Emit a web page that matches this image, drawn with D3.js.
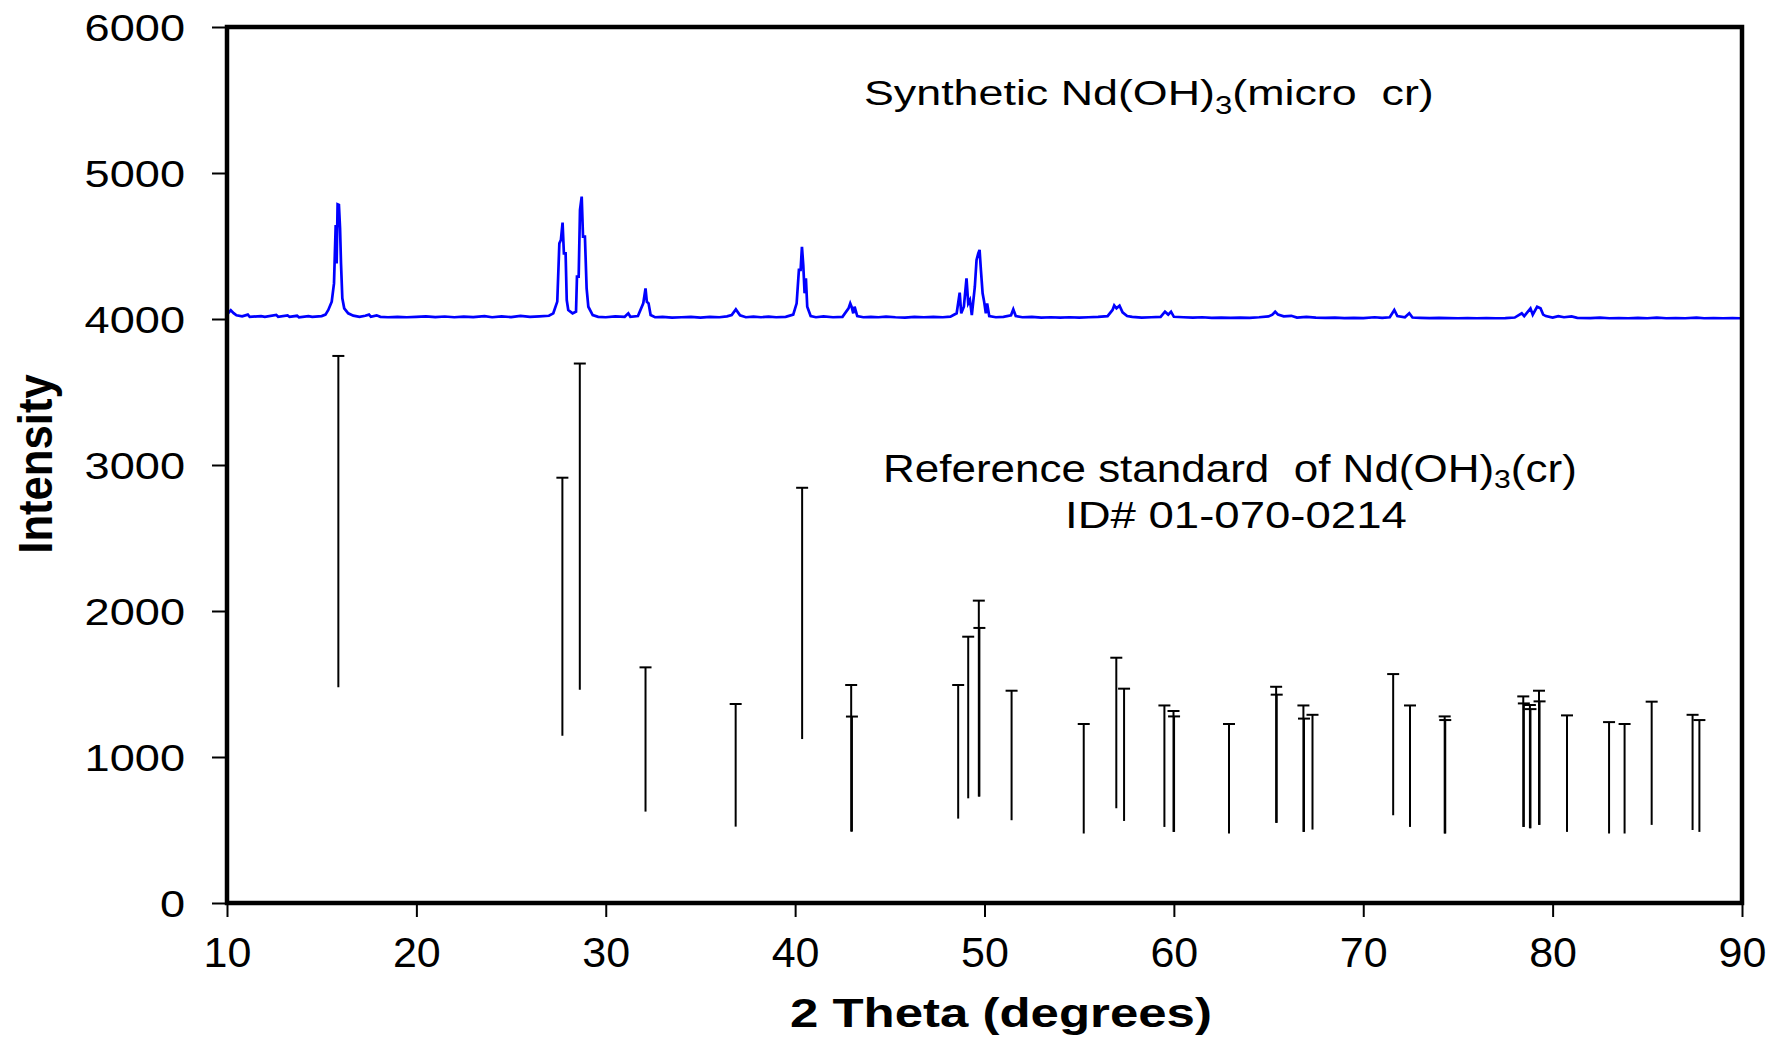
<!DOCTYPE html>
<html>
<head>
<meta charset="utf-8">
<script src="https://cdn.jsdelivr.net/npm/d3@7"></script>
<style>
  html, body { margin: 0; padding: 0; background: #fff; }
  svg { display: block; }
  text { font-family: "Liberation Sans", Arial, Helvetica, sans-serif; fill: #000; }
</style>
</head>
<body>
<svg id="chart" width="1779" height="1038"></svg>
<script>
// ---------------- DATA ----------------
// Synthetic Nd(OH)3 measured pattern (2θ in degrees, intensity offset by 4000)
const traceTheta = [
  10.0, 10.2, 10.35, 10.5, 10.8, 11.1, 11.2, 11.8, 12.0, 12.6, 12.7, 13.2, 13.3, 13.7, 13.8, 14.3, 14.5, 15.0, 15.2,
  15.35, 15.53, 15.65, 15.74, 15.79, 15.84, 15.91, 15.97, 16.02, 16.09, 16.19, 16.40, 16.67,
  17.0, 17.3, 17.5, 17.6, 17.9, 18.1, 18.5, 19.0, 19.5, 20.0, 20.5, 21.0, 21.5, 22.0, 22.5, 23.0, 23.6, 24.0, 24.5,
  25.0, 25.5, 26.0, 26.5, 27.0,
  27.23, 27.44, 27.55, 27.63, 27.72, 27.79, 27.88, 27.94, 28.02, 28.25, 28.43, 28.48, 28.57, 28.64, 28.73, 28.80,
  28.90, 28.99, 29.08, 29.31,
  29.6, 30.0, 30.5, 31.0, 31.19, 31.3, 31.7, 31.98, 32.10, 32.17, 32.26, 32.37, 32.6, 33.0, 33.5, 34.0, 34.5, 35.0,
  35.5, 36.0, 36.4, 36.65, 36.87, 37.09, 37.4, 37.8, 38.2, 38.6, 39.0, 39.5, 39.9,
  40.08, 40.20, 40.29, 40.36, 40.43, 40.50, 40.57, 40.64, 40.82,
  41.1, 41.5, 42.0, 42.5, 42.82, 42.91, 42.98, 43.07, 43.14, 43.28, 43.6, 44.0, 44.4, 44.8, 45.3, 45.8, 46.3, 46.8,
  47.3, 47.8, 48.2,
  48.53, 48.69, 48.77, 48.91, 49.05, 49.14, 49.23, 49.33, 49.49, 49.58, 49.67, 49.74, 49.81, 49.90, 49.98, 50.07,
  50.14, 50.25,
  50.6, 51.0, 51.4, 51.52, 51.65, 52.0, 52.5, 53.0, 53.5, 54.0, 54.5, 55.0, 55.5, 56.0, 56.5,
  56.76, 56.85, 56.97, 57.13, 57.29, 57.53, 57.8, 58.3, 58.8, 59.3, 59.53, 59.7, 59.85, 60.0, 60.5, 61.0, 61.5,
  62.0, 62.5, 63.0, 63.5, 64.0, 64.5, 65.0, 65.2, 65.35, 65.5, 65.8, 66.2, 66.5, 67.0, 67.5, 68.0, 68.5, 69.0,
  69.5, 70.0, 70.6, 71.0, 71.4, 71.64, 71.8, 72.2, 72.43, 72.6, 73.0, 73.5, 74.0, 74.5, 75.0, 75.5, 76.0, 76.5,
  77.0, 77.5, 78.0, 78.37, 78.5, 78.83, 78.95, 79.18, 79.36, 79.5, 79.64, 80.0, 80.3, 80.6, 81.0, 81.3, 82.0,
  82.5, 83.0, 83.5, 84.0, 84.5, 85.0, 85.5, 86.0, 86.5, 87.0, 87.6, 88.0, 88.5, 89.0, 89.5, 89.9
];
const traceIntensity = [
  4030, 4060, 4040, 4025, 4018, 4030, 4015, 4020, 4015, 4028, 4015, 4024, 4015, 4022, 4012, 4020, 4015, 4020, 4030,
  4062, 4118, 4244, 4644, 4381, 4785, 4781, 4621, 4381, 4142, 4073, 4039, 4023,
  4015, 4022, 4030, 4015, 4025, 4015, 4012, 4015, 4012, 4015, 4018, 4013, 4017, 4012, 4016, 4013, 4020, 4012, 4018,
  4013, 4022, 4015, 4018, 4022,
  4039, 4119, 4518, 4541, 4660, 4449, 4449, 4130, 4062, 4039, 4050, 4290, 4290, 4747, 4838, 4564,
  4564, 4210, 4084, 4027,
  4015, 4012, 4018, 4015, 4039, 4015, 4020, 4107, 4210, 4118, 4107, 4027, 4012, 4015, 4010, 4012, 4015, 4010,
  4014, 4012, 4018, 4027, 4066, 4025, 4012, 4016, 4012, 4016, 4012, 4015, 4030,
  4107, 4336, 4336, 4495, 4370, 4176, 4279, 4084, 4020,
  4012, 4018, 4012, 4015, 4073, 4107, 4084, 4039, 4084, 4020, 4012, 4015, 4012, 4016, 4012, 4010, 4014, 4012,
  4015, 4012, 4016,
  4039, 4180, 4039, 4084, 4279, 4107, 4130, 4027, 4221, 4404, 4449, 4473, 4336, 4176, 4119, 4039,
  4107, 4020,
  4012, 4015, 4025, 4066, 4020, 4012, 4014, 4010, 4012, 4010, 4012, 4010, 4012, 4015, 4020,
  4062, 4093, 4073, 4091, 4046, 4020, 4015, 4010, 4012, 4015, 4050, 4030, 4050, 4015, 4012, 4010, 4012,
  4008, 4010, 4008, 4010, 4008, 4012, 4018, 4030, 4050, 4030, 4018, 4022, 4010, 4015, 4010, 4008, 4010, 4006,
  4008, 4006, 4012, 4008, 4012, 4062, 4020, 4012, 4039, 4010, 4008, 4006, 4008, 4006, 4005, 4006, 4005, 4006,
  4005, 4006, 4010, 4039, 4020, 4073, 4030, 4084, 4073, 4030, 4020, 4010, 4020, 4012, 4018, 4008, 4006,
  4010, 4005, 4006, 4005, 4008, 4005, 4010, 4005, 4006, 4005, 4010, 4005, 4006, 4005, 4006, 4005
];

// Reference standard sticks (ID# 01-070-0214): position, top and bottom of each stick
const stickTheta  = [15.88, 27.71, 28.63, 32.10, 36.86, 40.37, 42.96, 43.00, 48.61, 49.14, 49.70, 49.73, 51.43,
                     55.24, 56.96, 57.37, 59.50, 59.98, 60.01, 62.91, 65.40, 65.43, 66.84, 66.87, 67.32, 71.58,
                     72.47, 74.30, 74.33, 78.45, 78.48, 78.80, 78.83, 79.28, 79.31, 80.76, 82.98, 83.80, 85.23,
                     87.39, 87.75];
const stickTop    = [3747, 2913, 3695, 1614, 1363, 2844, 1493, 1277, 1493, 1824, 2071, 1884, 1454,
                     1226, 1680, 1468, 1353, 1315, 1278, 1226, 1481, 1427, 1353, 1263, 1289, 1568,
                     1353, 1278, 1253, 1415, 1367, 1356, 1328, 1454, 1381, 1285, 1239, 1226, 1379,
                     1289, 1253];
const stickBottom = [1477, 1145, 1461, 626, 523, 1123, 489, 489, 578, 717, 729, 729, 567,
                     476, 649, 562, 521, 487, 487, 476, 549, 549, 487, 487, 503, 601,
                     521, 476, 476, 521, 521, 512, 512, 535, 535, 487, 476, 476, 535,
                     500, 487];

const xTicks = [10, 20, 30, 40, 50, 60, 70, 80, 90];
const yTicks = [0, 1000, 2000, 3000, 4000, 5000, 6000];

// ---------------- CHART ----------------
const svg = d3.select("#chart");
const L = 227, R = 1742, T = 27, B = 903;

const x = d3.scaleLinear().domain([10, 90]).range([L, R]);
const y = d3.scaleLinear().domain([0, 6000]).range([B, T]);

// Y axis
const yAxis = svg.append("g")
  .attr("transform", `translate(${L - 2},0)`)
  .call(d3.axisLeft(y).tickValues(yTicks).tickSize(13).tickFormat(d3.format("d")));
yAxis.select(".domain").remove();
yAxis.selectAll(".tick line").attr("stroke", "#000").attr("stroke-width", 2);
yAxis.selectAll(".tick text")
  .attr("x", -40).attr("y", 13).attr("dy", 0)
  .attr("text-anchor", "end")
  .style("font-size", "37px")
  .style("font-family", '"Liberation Sans", Arial, sans-serif')
  .attr("fill", "#000")
  .attr("transform", "translate(-40,0) scale(1.22,1) translate(40,0)");

// X axis
const xAxis = svg.append("g")
  .attr("transform", `translate(0,${B + 2})`)
  .call(d3.axisBottom(x).tickValues(xTicks).tickSize(12).tickFormat(d3.format("d")));
xAxis.select(".domain").remove();
xAxis.selectAll(".tick line").attr("stroke", "#000").attr("stroke-width", 2);
xAxis.selectAll(".tick text")
  .attr("y", 62).attr("dy", 0)
  .style("font-size", "43px")
  .style("font-family", '"Liberation Sans", Arial, sans-serif')
  .attr("fill", "#000");

// Reference sticks
const sticks = svg.append("g").attr("class", "sticks");
stickTheta.forEach((t, i) => {
  sticks.append("line")
    .attr("x1", x(t)).attr("x2", x(t))
    .attr("y1", y(stickBottom[i])).attr("y2", y(stickTop[i]))
    .attr("stroke", "#000").attr("stroke-width", 2);
  sticks.append("line")
    .attr("x1", x(t) - 6).attr("x2", x(t) + 6)
    .attr("y1", y(stickTop[i])).attr("y2", y(stickTop[i]))
    .attr("stroke", "#000").attr("stroke-width", 2);
});

// Synthetic trace
const line = d3.line().x((d, i) => x(traceTheta[i])).y(d => y(d));
svg.append("path")
  .datum(traceIntensity)
  .attr("d", line)
  .attr("fill", "none")
  .attr("stroke", "#0000ff")
  .attr("stroke-width", 2.7)
  .attr("stroke-linejoin", "miter");

// Frame
svg.append("rect")
  .attr("x", L).attr("y", T).attr("width", R - L).attr("height", B - T)
  .attr("fill", "none").attr("stroke", "#000").attr("stroke-width", 4.5);

// ---------------- TEXT ----------------
function fitText(textSel, left, baseline, targetW, sy) {
  const w = textSel.node().getBBox().width;
  textSel.attr("transform", `translate(${left},${baseline}) scale(${targetW / w},${sy || 1})`);
}

function formulaText(parts, size, subSize, subShift) {
  const t = svg.append("text").attr("x", 0).attr("y", 0)
    .attr("text-anchor", "start").style("font-size", size + "px").attr("xml:space", "preserve");
  parts.forEach(p => {
    if (p.sub) {
      t.append("tspan").attr("dy", subShift).style("font-size", subSize + "px").text(p.s);
    } else {
      const ts = t.append("tspan").text(p.s);
      if (p.back) ts.attr("dy", -subShift);
    }
  });
  return t;
}

const t1 = formulaText([{s: "Synthetic Nd(OH)"}, {s: "3", sub: true}, {s: "(micro  cr)", back: true}], 36, 25, 9);
fitText(t1, 864, 105, 570);

const t2 = formulaText([{s: "Reference standard  of Nd(OH)"}, {s: "3", sub: true}, {s: "(cr)", back: true}], 38, 26, 6);
fitText(t2, 883, 482, 694);

const t3 = svg.append("text").style("font-size", "36px").text("ID# 01-070-0214");
fitText(t3, 1065, 528, 342);

// Axis titles
const xt = svg.append("text").style("font-size", "40px").style("font-weight", "bold").text("2 Theta (degrees)");
fitText(xt, 790, 1027, 422);

const yt = svg.append("text").style("font-size", "44px").style("font-weight", "bold")
  .attr("text-anchor", "middle").text("Intensity");
(function () {
  const w = yt.node().getBBox().width;
  yt.attr("transform", `translate(52,464) rotate(-90) scale(${180 / w},1.08)`);
})();
</script>
</body>
</html>
